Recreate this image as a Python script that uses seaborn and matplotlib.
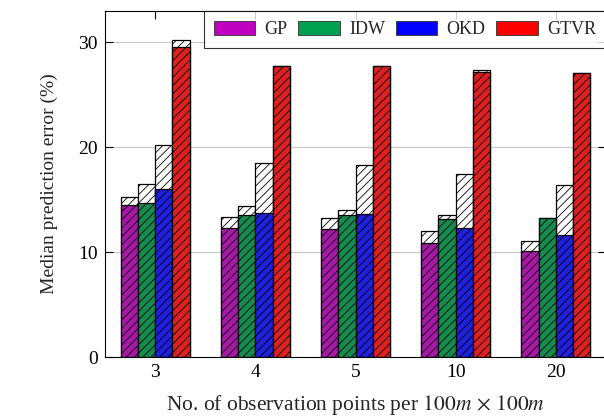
import matplotlib
matplotlib.use('Agg')
import matplotlib.pyplot as plt
import seaborn as sns
import pandas as pd
from matplotlib.patches import Patch

points = ["3", "4", "5", "10", "20"]
methods = ["GP", "IDW", "OKD", "GTVR"]
colors = ["#bf00bf", "#00a050", "#0000ff", "#ff0000"]
gp_low = [14.5, 12.35, 12.25, 10.9, 10.1]
gp_high = [15.3, 13.4, 13.3, 12.0, 11.1]
idw_low = [14.7, 13.5, 13.5, 13.2, 13.3]
idw_high = [16.5, 14.4, 14.05, 13.5, 13.3]
okd_low = [16.0, 13.7, 13.6, 12.35, 11.6]
okd_high = [20.2, 18.5, 18.35, 17.5, 16.45]
gtvr_low = [29.6, 27.8, 27.75, 27.2, 27.1]
gtvr_high = [30.25, 27.8, 27.75, 27.4, 27.1]

lows = [gp_low, idw_low, okd_low, gtvr_low]
highs = [gp_high, idw_high, okd_high, gtvr_high]
rows = []
for m, lo, hi in zip(methods, lows, highs):
    for p, a, b in zip(points, lo, hi):
        rows.append({"points": p, "method": m, "low": a, "high": b})
df = pd.DataFrame(rows)

sns.set_style("ticks")
plt.rcParams['font.family'] = ['Liberation Serif', 'DejaVu Serif']
plt.rcParams['mathtext.fontset'] = 'stix'
plt.rcParams['hatch.linewidth'] = 0.6
plt.rcParams['hatch.color'] = 'black'

fig = plt.figure(figsize=(6.04, 4.19), dpi=100)
ax = fig.add_axes([105/604, 62/419, (606-105)/604, (357-11)/419])

sns.barplot(data=df, x="points", y="high", hue="method", order=points,
            hue_order=methods, palette=["white"]*4, width=0.69, gap=0,
            edgecolor="black", linewidth=0.9, legend=False, ax=ax)
sns.barplot(data=df, x="points", y="low", hue="method", order=points,
            hue_order=methods, palette=colors, width=0.69, gap=0,
            edgecolor="black", linewidth=0.9, legend=False, ax=ax)
for p in ax.patches:
    p.set_hatch('////')
    p.set_edgecolor('black')

ax.set_xlim(-0.5, 4.5)
ax.set_ylim(0, 33)
ax.set_yticks([0, 10, 20, 30])
ax.yaxis.grid(True, color='#c8c8c8', linewidth=0.8)
ax.set_axisbelow(True)
for s in ax.spines.values():
    s.set_visible(True)
    s.set_color('black')
    s.set_linewidth(0.8)
ax.tick_params(direction='in', length=6, width=0.8, top=True, right=True,
               labelsize=14, pad=5, colors='black')
ax.set_xlabel(r"No. of observation points per $100m\,\times\,100m$", fontsize=15.5, labelpad=9)
ax.set_ylabel("Median prediction error (%)", fontsize=14, labelpad=15)

handles = [Patch(facecolor=c, edgecolor='#333333', linewidth=0.6) for c in colors]
leg = ax.legend(handles, methods, loc='upper right', ncol=4, fontsize=13,
                frameon=True, fancybox=False, borderaxespad=0,
                handlelength=2.3, handleheight=0.8, columnspacing=0.6,
                handletextpad=0.5, borderpad=0.56)
leg.get_frame().set_edgecolor('black')
leg.get_frame().set_linewidth(0.8)

fig.savefig("out.png", dpi=100)
